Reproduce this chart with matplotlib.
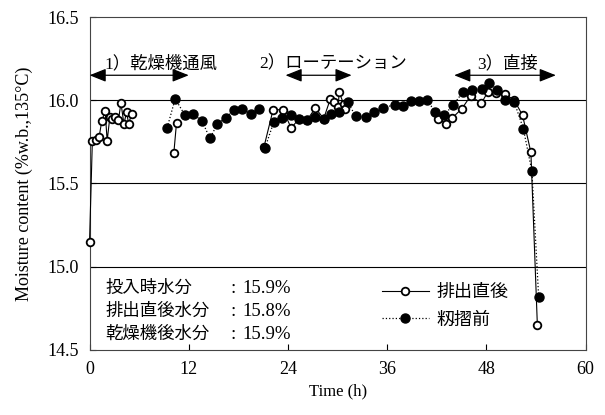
import numpy as np
import matplotlib
matplotlib.use('Agg')
import matplotlib.pyplot as plt

plt.rcParams['font.family'] = ['Liberation Serif', 'Noto Sans CJK JP']
plt.rcParams['mathtext.fontset'] = 'stix'

# 排出直後 (open circles), NaN = break in the line
t_out = [0.0, 0.34, 0.79, 1.16, 1.48, 1.89, 2.13, 2.46, 2.70, 3.10, 3.50, 3.80, 4.16, 4.48, 4.72, 5.13,
         np.nan,
         10.19, 10.52,
         np.nan,
         21.1, 22.2, 23.38, 24.39, 25.36, 26.34, 27.31, 28.32, 29.14, 29.6, 30.1, 30.17, 30.72, 30.85,
         np.nan,
         42.19, 43.16, 43.86, 45.04, 46.08, 47.39, 48.18, 49.21, 50.2, 51.36, 52.37, 53.38, 54.16]
mc_out = [15.15, 15.756, 15.76, 15.78, 15.875, 15.935, 15.756, 15.90, 15.89, 15.897, 15.883, 15.983, 15.857, 15.93, 15.86, 15.92,
          np.nan,
          15.68, 15.865,
          np.nan,
          15.72, 15.943, 15.943, 15.833, 15.89, 15.883, 15.953, 15.89, 16.01, 15.99, 15.96, 16.05, 15.98, 15.945,
          np.nan,
          15.89, 15.855, 15.893, 15.95, 16.025, 15.983, 16.05, 16.043, 16.04, 16.0, 15.91, 15.686, 14.65]

# 籾摺前 (filled circles)
t_hull = [9.39, 10.36, 11.5, 12.47, 13.6, 14.57, 15.47, 16.45, 17.42, 18.47, 19.49, 20.54,
          np.nan,
          21.23, 22.29, 23.3, 24.31, 25.33, 26.34, 27.31, 28.32, 29.26, 30.15, 31.2, 32.18, 33.48,
          34.45, 35.46, 36.89, 37.9, 38.9, 39.88, 40.82, 41.83, 42.85, 43.98, 45.16, 46.29, 47.42,
          48.32, 49.33, 50.27, 51.36, 52.46, 53.5, 54.32]
mc_hull = [15.835, 16.009, 15.913, 15.92, 15.875, 15.77, 15.86, 15.893, 15.94, 15.95, 15.92, 15.95,
           np.nan,
           15.715, 15.87, 15.894, 15.913, 15.89, 15.883, 15.90, 15.89, 15.915, 15.93, 15.99, 15.905, 15.90,
           15.93, 15.953, 15.973, 15.965, 15.995, 15.995, 15.999, 15.93, 15.91, 15.97, 16.05, 16.06, 16.07,
           16.105, 16.06, 16.0, 15.99, 15.83, 15.574, 14.815]

x_ticks = [0, 12, 24, 36, 48, 60]
y_ticks = [14.5, 15.0, 15.5, 16.0, 16.5]

# periods: (label, start, end, label x)
periods = [('1）乾燥機通風', 0, 12, 8.6),
           ('2）ローテーション', 23.7, 31.7, 29.4),
           ('3）直接', 44.1, 56.4, 50.5)]

summary_names = ['投入時水分', '排出直後水分', '乾燥機後水分']
summary_values = [15.9, 15.8, 15.9]

fig = plt.figure(figsize=(6.05, 4.15), dpi=100)
ax = fig.add_axes([0.148, 0.157, 0.82, 0.802])

for yv in [15.0, 15.5, 16.0]:
    ax.axhline(yv, color='black', linewidth=0.8, zorder=1)

ax.plot(t_out, mc_out, '-', color='black', linewidth=0.8, marker='o', markersize=5.5,
        markerfacecolor='white', markeredgecolor='black', markeredgewidth=1.3, zorder=3,
        clip_on=False, label='排出直後')
ax.plot(t_hull, mc_hull, ':', color='black', linewidth=0.9, marker='o', markersize=6.5,
        markerfacecolor='black', markeredgecolor='black', zorder=4, label='籾摺前')

for label, x0, x1, xt in periods:
    ax.annotate('', xy=(x0, 16.15), xytext=(x1, 16.15),
                arrowprops=dict(arrowstyle='<|-|>,head_length=0.5,head_width=0.2',
                                color='black', linewidth=0.9, shrinkA=0, shrinkB=0,
                                mutation_scale=20))
    ax.text(xt, 16.215, label, ha='center', va='center', fontsize=12.5)

for i, (name, val) in enumerate(zip(summary_names, summary_values)):
    yy = 14.87 - i * 0.138
    ax.text(1.9, yy, name, ha='left', va='center', fontsize=12.5)
    ax.text(17.4, yy, ':', ha='center', va='center', fontsize=14)
    ax.text(18.5, yy, f'{val:.1f}%', ha='left', va='center', fontsize=13.5)

ax.legend(loc='upper left', bbox_to_anchor=(0.575, 0.22), frameon=False, fontsize=13,
          handlelength=2.6, handletextpad=0.4, labelspacing=0.6, borderaxespad=0)

ax.set_xlim(0, 60)
ax.set_ylim(14.5, 16.5)
ax.set_xticks(x_ticks)
ax.set_yticks(y_ticks)
ax.set_yticklabels([f'{v:.1f}' for v in y_ticks])
ax.tick_params(direction='in', length=4, width=0.8, labelsize=13, pad=8)
for s in ax.spines.values():
    s.set_linewidth(0.8)
    s.set_color('#444444')

ax.set_xlabel('Time (h)', fontsize=12, labelpad=4)
ax.set_ylabel('Moisture content (%w.b.,135°C)', fontsize=13, labelpad=10)

fig.savefig('out.png', dpi=100)
